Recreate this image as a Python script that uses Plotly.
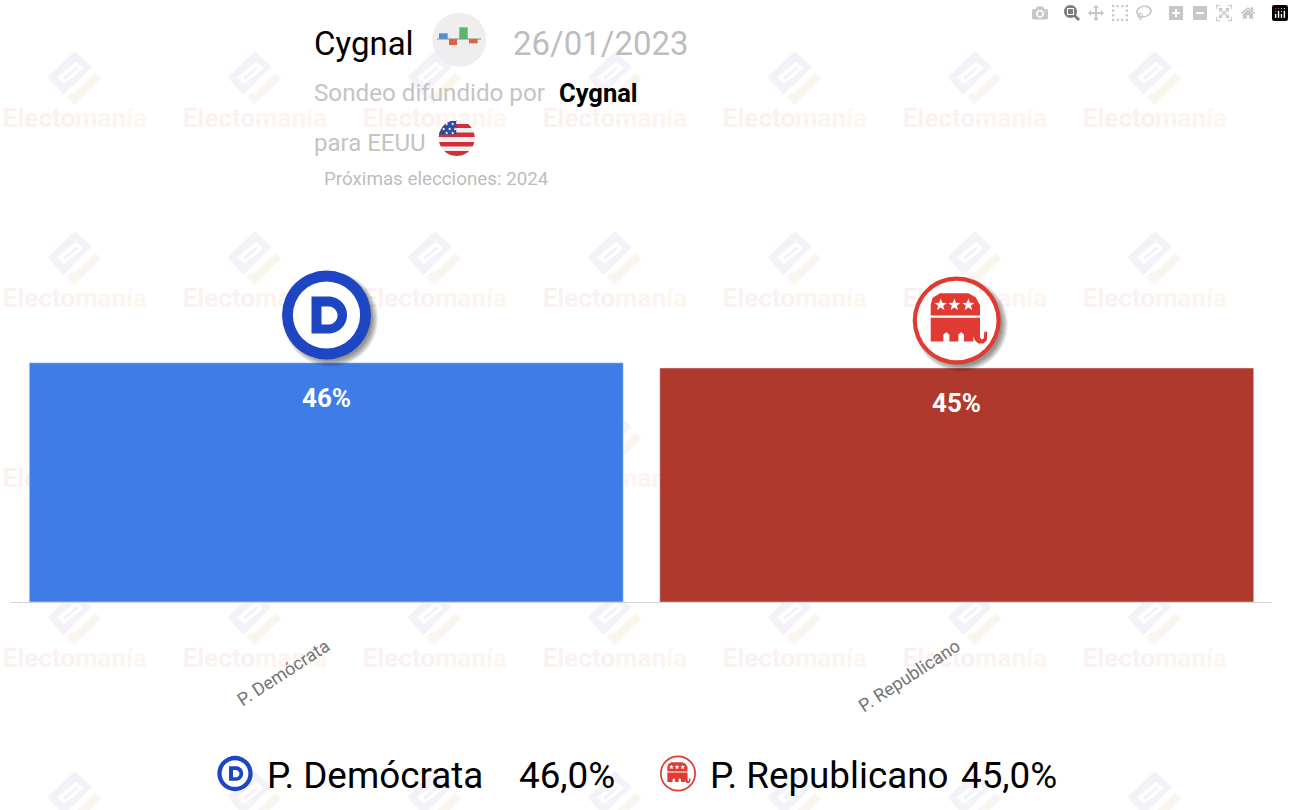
import math
import plotly.graph_objs as go

W = 1294
H = 810

parties = ["P. Demócrata", "P. Republicano"]
votes = [46, 45]
bar_colors = ["#3d7de5", "#ae392c"]
bar_labels = ["46%", "45%"]
legend_values = ["46,0%", "45,0%"]

wm_x = [75, 255, 435, 615, 795, 975, 1155, 1335]
wm_text_y = [120, 300, 480, 660]
wm_logo_y = [78, 258, 438, 618, 798]

BLUE = "#1e46c2"
RED = "#e03a33"
shapes = []


def poly(points, color, layer="above", opacity=1):
    path = "M" + " L".join(f"{x:.2f},{y:.2f}" for x, y in points) + " Z"
    shapes.append(dict(type="path", path=path, xref="x", yref="y", fillcolor=color,
                       line_width=0, layer=layer, opacity=opacity))


def circle(cx, cy, r, color, opacity=1, layer="above"):
    shapes.append(dict(type="circle", xref="x", yref="y", x0=cx - r, x1=cx + r, y0=cy - r, y1=cy + r,
                       fillcolor=color, line_width=0, layer=layer, opacity=opacity))


def shadow(cx, cy, r):
    for i in range(7):
        circle(cx + 4, cy + 4, r + 3 - i, "#000000", opacity=0.075)


def star(cx, cy, r, color="white"):
    pts = []
    for i in range(10):
        rad = r if i % 2 == 0 else r * 0.42
        a = -math.pi / 2 + i * math.pi / 5
        pts.append((cx + rad * math.cos(a), cy + rad * math.sin(a)))
    poly(pts, color)


def dem_logo(cx, cy, r):
    k = r / 44.5
    circle(cx, cy, r, BLUE)
    circle(cx, cy, r * 0.755, "white")
    outer = [(-15, -18.5), (-15, 18.5), (2, 18.5)]
    outer += [(2 + 18.5 * math.cos(a / 10) * 1.0, 18.5 * math.sin(a / 10)) for a in range(15, -16, -1)]
    outer += [(2, -18.5)]
    inner = [(-5, -8.5), (-5, 9.5), (2, 9.5)]
    inner += [(2 + 9 * math.cos(a / 10), 0.5 + 9 * math.sin(a / 10)) for a in range(15, -16, -1)]
    inner += [(2, -8.5)]
    poly([(cx + x * k, cy + y * k) for x, y in outer], BLUE)
    poly([(cx + x * k, cy + y * k) for x, y in inner], "white")


def rep_logo(cx, cy, r):
    k = r / 44
    circle(cx, cy, r, RED)
    circle(cx, cy, r * 0.905, "white")
    # coordinates taken from the 3x crop, centre is 200,180
    top = [(122, 165), (122, 132), (128, 112), (150, 98), (235, 98), (257, 110), (270, 135), (270, 165)]
    body = [(122, 172), (122, 243), (160, 243), (160, 222), (169, 215), (178, 222), (178, 243), (205, 243),
            (205, 222), (213, 215), (222, 222), (222, 243), (250, 243), (250, 228), (255, 240), (265, 249),
            (280, 249), (290, 240), (292, 214), (283, 214), (281, 234), (274, 237), (270, 230), (270, 172)]
    poly([(cx + (x - 200) * k / 3, cy + (y - 180) * k / 3) for x, y in top], RED)
    poly([(cx + (x - 200) * k / 3, cy + (y - 180) * k / 3) for x, y in body], RED)
    for sx in [152, 193, 235]:
        star(cx + (sx - 200) * k / 3, cy + (133 - 180) * k / 3, 6.3 * k)


def flag(cx, cy, r):
    circle(cx, cy, r, "#f0f0f0")

    def band(y0, y1, xlim=None, color="#d32f3a"):
        ys = [y0 + (y1 - y0) * i / 12 for i in range(13)]
        left = [(-math.sqrt(max(r * r - y * y, 0)), y) for y in ys]
        right = []
        for y in reversed(ys):
            x = math.sqrt(max(r * r - y * y, 0))
            right.append((x if xlim is None else min(x, xlim), y))
        poly([(cx + x, cy + y) for x, y in left + right], color)

    band(-14, -10, color="#d32f3a")
    band(-5.5, -1)
    band(4, 8.5)
    band(13, 18)
    band(-18, -3.5, xlim=-0.5, color="#2c4a9e")
    for sx, sy in [(-10, -14), (-4, -14), (-13, -9), (-7, -9), (-1.5, -9), (-10, -5), (-4, -5)]:
        star(cx + sx, cy + sy, 1.8)


def cygnal_icon(cx, cy):
    circle(cx, cy, 27, "#eeeeee")
    for x0, x1, y0, y1, c in [(439, 447.7, 33.3, 39, "#4a90d9"), (449, 457, 39, 45, "#e2603f"),
                              (459.3, 467.7, 27.3, 39, "#5cb56a"), (469, 477.7, 39, 43.3, "#e2603f")]:
        poly([(x0, y0), (x1, y0), (x1, y1), (x0, y1)], c)
    poly([(437, 38.6), (481, 38.6), (481, 39.4), (437, 39.4)], "#8a8a8a")


def wm_logo(x, y):
    lav = "#f4f2f9"
    peach = "#fbf5f0"
    ox, oy = x - 75, y - 78
    conv = lambda pts: [(ox + a / 3, oy + 40 + b / 3) for a, b in pts]
    poly(conv([(225, 33), (275, 80), (190, 165), (143, 112)]), lav, layer="below")
    poly(conv([(172, 112), (228, 65), (250, 85), (192, 132)]), "white", layer="below")
    poly(conv([(190, 112), (230, 78), (235, 85), (195, 120)]), lav, layer="below")
    poly(conv([(200, 170), (222, 195), (305, 115), (285, 100), (222, 160), (213, 158)]), peach, layer="below")


for x in wm_x:
    for y in wm_logo_y:
        wm_logo(x, y)

wm_word = '<span style="color:#fcf1f1">Electo</span><span style="color:#fdf3f0">man</span><span style="color:#fef6ee">ía</span>'
wm_xs = [x for x in wm_x for y in wm_text_y]
wm_ys = [y for x in wm_x for y in wm_text_y]

fig = go.Figure()
fig.add_trace(go.Scatter(x=wm_xs, y=wm_ys, mode="text", text=[wm_word] * len(wm_xs),
                         textfont=dict(family="Roboto", size=26, weight=700), cliponaxis=False,
                         hoverinfo="skip", showlegend=False, xaxis="x", yaxis="y"))
fig.add_trace(go.Bar(x=parties, y=votes, marker_color=bar_colors, showlegend=False, xaxis="x2", yaxis="y2"))

cygnal_icon(459.3, 39.7)
flag(456.7, 138, 18)
shadow(326.5, 315, 44.5)
dem_logo(326.5, 315, 44.5)
shadow(956.7, 320.5, 44)
rep_logo(956.7, 320.5, 44)
dem_logo(235, 773.5, 17.7)
rep_logo(678, 773.5, 18)


def label(x, y, text, size, color="black", bold=False, anchor="left"):
    return dict(xref="paper", yref="paper", x=x / W, y=1 - y / H, text=text, showarrow=False,
                xanchor=anchor, yanchor="middle",
                font=dict(family="Roboto", size=size, color=color, weight=700 if bold else 400))


annotations = [
    label(312, 43, "Cygnal", 33),
    label(511, 43, "26/01/2023", 33, "#bdbdbd"),
    label(312, 93, "Sondeo difundido por", 24.2, "#c4c4c4"),
    label(557, 93, "Cygnal", 25.5, bold=True),
    label(312, 143, "para EEUU", 24, "#c4c4c4"),
    label(322, 179, "Próximas elecciones: 2024", 18.8, "#bdbdbd"),
    label(265, 775, parties[0], 36.8),
    label(517, 775, legend_values[0], 36.8),
    label(708, 775, parties[1], 36.8),
    label(959, 775, legend_values[1], 36.8),
]
for party, vote, text in zip(parties, votes, bar_labels):
    annotations.append(dict(xref="x2", yref="y2", x=party, y=vote, yshift=-35, text=text, showarrow=False,
                            font=dict(family="Roboto", size=26, color="white", weight=700)))

fig.update_layout(
    width=W,
    height=H,
    margin=dict(t=0, b=0, l=0, r=0),
    paper_bgcolor="white",
    plot_bgcolor="rgba(0,0,0,0)",
    bargap=0.058,
    shapes=shapes,
    annotations=annotations,
    xaxis=dict(domain=[0, 1], range=[0, W], visible=False, fixedrange=True),
    yaxis=dict(domain=[0, 1], range=[H, 0], visible=False, fixedrange=True),
    xaxis2=dict(domain=[11 / W, 1272 / W], anchor="y2", type="category", showline=True, linecolor="#d4d4d4",
                linewidth=1, ticks="", tickangle=-33, ticklabelstandoff=26,
                tickfont=dict(family="Roboto", size=18, color="#757575")),
    yaxis2=dict(domain=[(H - 602) / H, (H - 342) / H], anchor="x2", range=[0, 50], visible=False),
)

fig.write_html("out.html", post_script="document.body.style.margin = '0';")
